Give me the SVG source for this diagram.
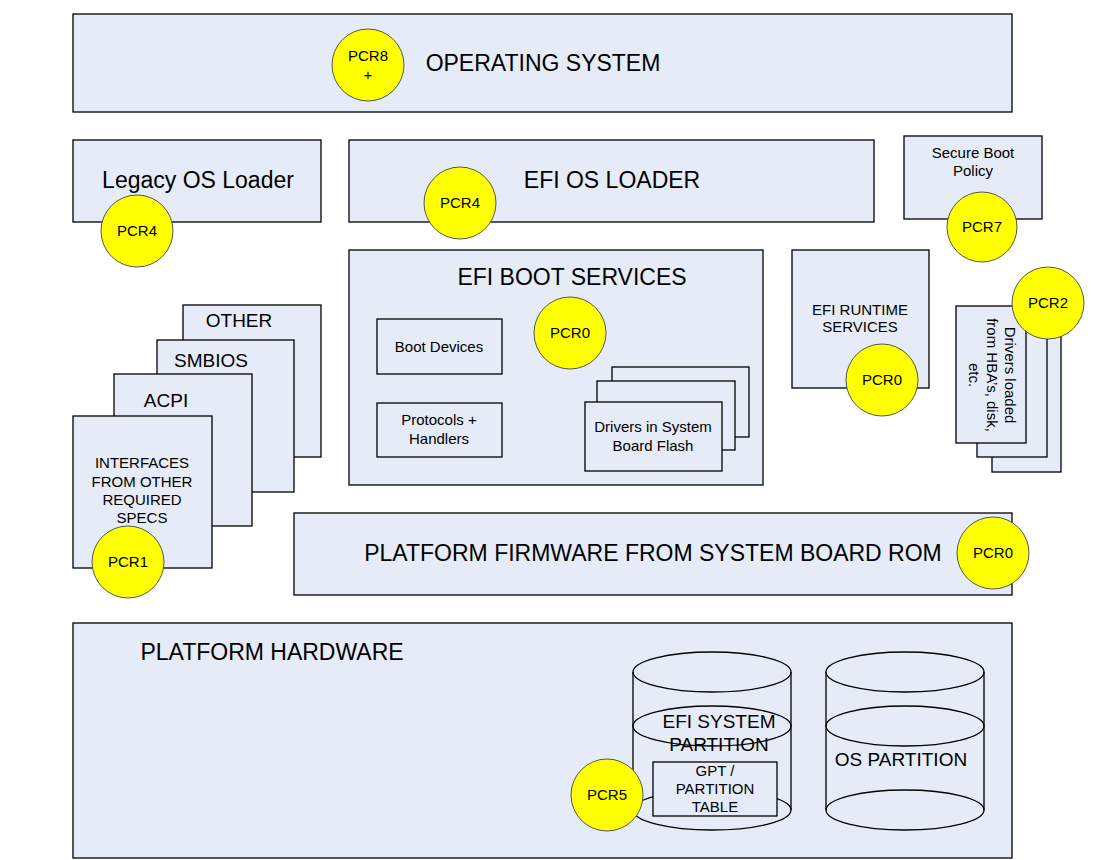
<svg xmlns="http://www.w3.org/2000/svg" width="1097" height="860" viewBox="0 0 1097 860">
<style>
.b{fill:#E6ECF7;stroke:#000;stroke-width:1.3}
.w{fill:none;stroke:#000;stroke-width:1.3}
.p{fill:#FFFF00;stroke:#555;stroke-width:1}
text{font-family:"Liberation Sans",Arial,sans-serif;fill:#000;text-anchor:middle}
.L{font-size:23px}
.M{font-size:19px}
.S{font-size:15px}
</style>
<rect width="1097" height="860" fill="#fff"/>
<g id="os"><rect class="b" x="73" y="14" width="939" height="98"/><text class="L" x="543" y="71">OPERATING SYSTEM</text></g>
<g id="pcr8"><circle class="p" cx="368" cy="65" r="36"/><text class="S" x="368" y="61">PCR8</text><text class="S" x="368" y="80">+</text></g>
<g id="legacy"><rect class="b" x="73" y="140" width="248" height="82"/><text class="L" x="198" y="188">Legacy OS Loader</text></g>
<g id="pcr4a"><circle class="p" cx="137" cy="231" r="36"/><text class="S" x="137" y="236">PCR4</text></g>
<g id="efiloader"><rect class="b" x="349" y="140" width="525" height="82"/><text class="L" x="612" y="188">EFI OS LOADER</text></g>
<g id="pcr4b"><circle class="p" cx="460" cy="203" r="36"/><text class="S" x="460" y="208">PCR4</text></g>
<g id="secure"><rect class="b" x="904" y="136" width="138" height="83"/><text class="S" x="973" y="158">Secure Boot</text><text class="S" x="973" y="176">Policy</text></g>
<g id="pcr7"><circle class="p" cx="982" cy="227" r="35"/><text class="S" x="982" y="232">PCR7</text></g>
<g id="bootsvc"><rect class="b" x="349" y="250" width="414" height="235"/><text class="L" x="572" y="285">EFI BOOT SERVICES</text>
<rect class="b" x="377" y="319" width="125" height="55"/><text class="S" x="439" y="352">Boot Devices</text>
<rect class="b" x="377" y="403" width="125" height="54"/><text class="S" x="439" y="425">Protocols +</text><text class="S" x="439" y="444">Handlers</text>
<rect class="b" x="612" y="367" width="137" height="70"/><rect class="b" x="597" y="381" width="138" height="69"/><rect class="b" x="585" y="402" width="137" height="69"/>
<text class="S" x="653" y="432">Drivers in System</text><text class="S" x="653" y="451">Board Flash</text></g>
<g id="pcr0a"><circle class="p" cx="570" cy="333" r="36"/><text class="S" x="570" y="338">PCR0</text></g>
<g id="runtime"><rect class="b" x="792" y="250" width="137" height="138"/><text class="S" x="860" y="315">EFI RUNTIME</text><text class="S" x="860" y="332">SERVICES</text></g>
<g id="pcr0b"><circle class="p" cx="882" cy="380" r="36"/><text class="S" x="882" y="385">PCR0</text></g>
<g id="hba"><rect class="b" x="992" y="334" width="69" height="138"/><rect class="b" x="977" y="320" width="70" height="137"/><rect class="b" x="956" y="306" width="70" height="137"/>
<g transform="translate(991,375) rotate(90)"><text class="S" x="0" y="-14">Drivers loaded</text><text class="S" x="0" y="4">from HBA’s, disk,</text><text class="S" x="0" y="22">etc.</text></g></g>
<g id="pcr2"><circle class="p" cx="1048" cy="303" r="36"/><text class="S" x="1048" y="308">PCR2</text></g>
<g id="specs"><rect class="b" x="183" y="305" width="138" height="152"/><text class="M" x="239" y="327">OTHER</text>
<rect class="b" x="157" y="340" width="137" height="152"/><text class="M" x="211" y="367">SMBIOS</text>
<rect class="b" x="114" y="374" width="138" height="152"/><text class="M" x="166" y="407">ACPI</text>
<rect class="b" x="73" y="416" width="139" height="152"/><text class="S" x="142" y="468">INTERFACES</text><text class="S" x="142" y="487">FROM OTHER</text><text class="S" x="142" y="505">REQUIRED</text><text class="S" x="142" y="523">SPECS</text></g>
<g id="pcr1"><circle class="p" cx="128" cy="562" r="36"/><text class="S" x="128" y="567">PCR1</text></g>
<g id="firmware"><rect class="b" x="294" y="513" width="718" height="82"/><text class="L" x="653" y="561">PLATFORM FIRMWARE FROM SYSTEM BOARD ROM</text></g>
<g id="pcr0c"><circle class="p" cx="993" cy="553" r="36"/><text class="S" x="993" y="558">PCR0</text></g>
<g id="hardware"><rect class="b" x="73" y="623" width="939" height="235"/><text class="L" x="272" y="660">PLATFORM HARDWARE</text></g>
<g id="esp">
<path class="w" d="M633 672 V810 A79 20 0 0 0 791 810 V672"/>
<ellipse class="w" cx="712" cy="672" rx="79" ry="20"/>
<text class="M" x="719" y="728">EFI SYSTEM</text><text class="M" x="719" y="751">PARTITION</text>
<ellipse class="w" cx="712" cy="726" rx="79" ry="20"/>
<path class="w" d="M633 810 A79 20 0 0 1 791 810"/>
<rect class="b" x="653" y="762" width="124" height="54"/><text class="S" x="715" y="776">GPT /</text><text class="S" x="715" y="794">PARTITION</text><text class="S" x="715" y="812">TABLE</text></g>
<g id="pcr5"><circle class="p" cx="607" cy="795" r="36"/><text class="S" x="607" y="800">PCR5</text></g>
<g id="ospart">
<path class="w" d="M826 672 V810 A79 20 0 0 0 984 810 V672"/>
<ellipse class="w" cx="905" cy="672" rx="79" ry="20"/>
<ellipse class="w" cx="905" cy="726" rx="79" ry="20"/>
<path class="w" d="M826 810 A79 20 0 0 1 984 810"/>
<text class="M" x="901" y="766">OS PARTITION</text></g>
<g id="connectors"></g>
</svg>
